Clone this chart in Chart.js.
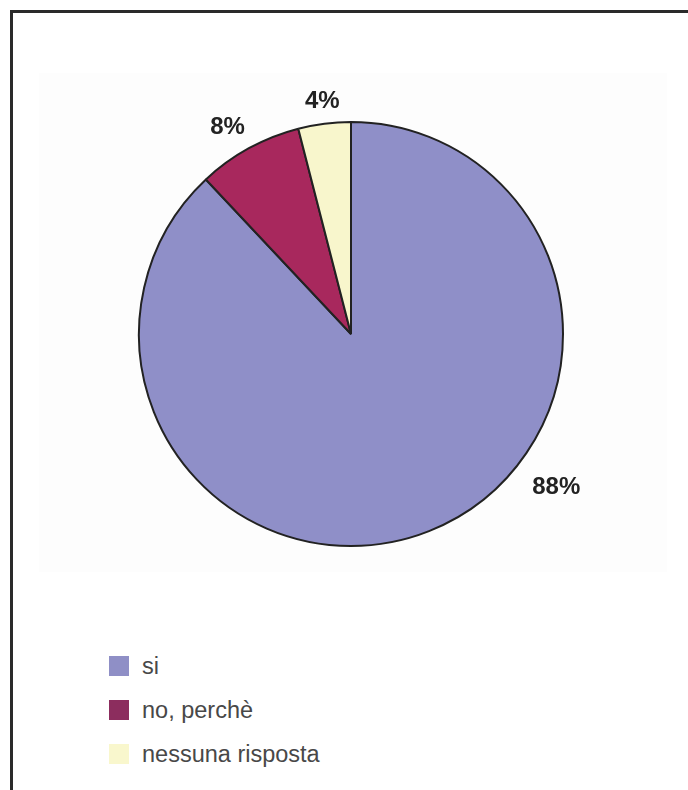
<!DOCTYPE html>
<html>
<head>
<meta charset="utf-8">
<script src="https://cdn.jsdelivr.net/npm/chart.js@4"></script>
<style>
  body { margin: 0; background: #fff; font-family: "Liberation Sans", Arial, sans-serif; }
  #frame { position: absolute; left: 10px; top: 10px; width: 690px; height: 790px;
           border-top: 3px solid #2a2a2a; border-left: 3px solid #2a2a2a; }
  #plotBg { position: absolute; left: 39px; top: 73px; width: 628px; height: 499px; background: #fdfdfd; }
  #chartBox { position: absolute; left: 0; top: 0; width: 688px; height: 600px; }
  #legend { position: absolute; left: 109px; top: 644px; }
  .item { display: flex; align-items: center; height: 44px; }
  .box { width: 20px; height: 20px; margin-right: 13px; }
  .item span { font-size: 23.5px; color: #484848; line-height: 20px; }
</style>
</head>
<body>
<div id="frame"></div>
<div id="plotBg"></div>
<div id="chartBox"><canvas id="pie" width="688" height="600"></canvas></div>
<div id="legend"></div>
<script>
// data
const categories = ['si', 'no, perchè', 'nessuna risposta'];
const percents = [88, 8, 4];
const sliceColors = ['#8f8fc8', '#a8285d', '#f8f6cc'];
const legendColors = ['#8f8fc6', '#8c2d5e', '#f9f7cd'];
// where each % label sits: fraction along the arc, and distance outside the rim
const labelAlong = [0.40, 0.43, 0.51];
const labelOut = [44, 29, 22];

const pctLabels = {
  id: 'pctLabels',
  afterDatasetsDraw(chart) {
    const ctx = chart.ctx;
    const arcs = chart.getDatasetMeta(0).data;
    ctx.save();
    ctx.font = 'bold 24px "Liberation Sans", Arial, sans-serif';
    ctx.fillStyle = '#222';
    ctx.textAlign = 'center';
    ctx.textBaseline = 'middle';
    arcs.forEach((arc, i) => {
      const a = arc.startAngle + (arc.endAngle - arc.startAngle) * labelAlong[i];
      const r = arc.outerRadius + labelOut[i];
      ctx.fillText(percents[i] + '%', arc.x + Math.cos(a) * r, arc.y + Math.sin(a) * r);
    });
    ctx.restore();
  }
};

new Chart(document.getElementById('pie'), {
  type: 'pie',
  data: {
    labels: categories,
    datasets: [{
      data: percents,
      backgroundColor: sliceColors,
      borderColor: '#222',
      borderWidth: 2,
    }],
  },
  options: {
    responsive: false,
    animation: false,
    layout: { padding: { left: 138, right: 124, top: 121, bottom: 53 } },
    plugins: { legend: { display: false }, tooltip: { enabled: false } },
  },
  plugins: [pctLabels],
});

// legend list
const legend = document.getElementById('legend');
categories.forEach((name, i) => {
  const row = document.createElement('div');
  row.className = 'item';
  row.innerHTML = `<div class="box" style="background:${legendColors[i]}"></div><span>${name}</span>`;
  legend.appendChild(row);
});
</script>
</body>
</html>
